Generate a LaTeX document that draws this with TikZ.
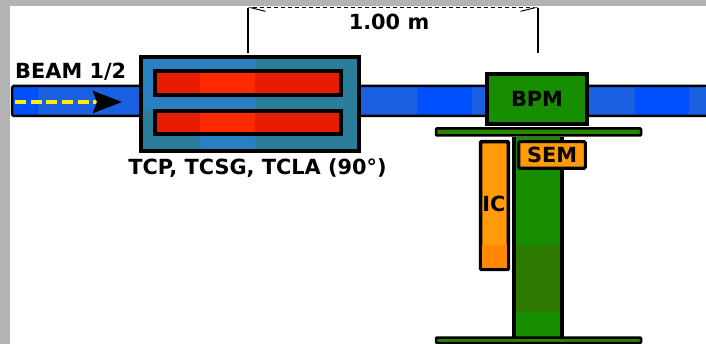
\documentclass[tikz,border=0pt]{standalone}
\usepackage{fontspec}
\setmainfont{DejaVu Sans}
\usetikzlibrary{calc, positioning, arrows.meta}
\definecolor{pageGray}{HTML}{B3B3B3}
\definecolor{beamBlue}{HTML}{0050FF}
\definecolor{beamSoft}{HTML}{1A60E0}
\definecolor{tankBlue}{HTML}{2A7FC0}
\definecolor{tankTeal}{HTML}{2B7D9C}
\definecolor{jawRed}{HTML}{E81C00}
\definecolor{jawHot}{HTML}{FF2A00}
\definecolor{standGreen}{HTML}{168E00}
\definecolor{standDark}{HTML}{2E7A00}
\definecolor{plateGreen}{HTML}{2A8400}
\definecolor{detOrange}{HTML}{FF9A08}
\definecolor{detDeep}{HTML}{FF8800}
\tikzset{
  lbl/.style={font=\bfseries\fontsize{17.8}{20}\selectfont, inner sep=0pt},
  outl/.style={draw=black, line width=0.095cm},
  thinl/.style={draw=black, line width=0.05cm},
  platel/.style={draw=black, line width=0.075cm, fill=plateGreen, rounded corners=0.03cm},
  det/.style={outl, rounded corners=0.04cm, fill=detOrange, inner sep=0pt, lbl},
}
\def\BeamTop{86}
\def\BeamBot{116}
\def\DimY{8}
\def\DimFoot{53}

\begin{document}
\begin{tikzpicture}[x=0.03cm, y=-0.03cm]
  \useasboundingbox (0,0) rectangle (706,344);
  \clip (0,0) rectangle (706,344);
  % ----- page -----
  \fill[pageGray] (0,0) rectangle (706,344);
  \fill[white] (10,6) rectangle (706,344);

  % ----- beam pipe -----
  \fill[beamSoft, rounded corners=0.05cm] (12,\BeamTop) rectangle (706,\BeamBot);
  \fill[beamBlue, rounded corners=0.05cm] (12,\BeamTop) rectangle (38,\BeamBot);
  \fill[beamBlue] (417,\BeamTop) rectangle (472,\BeamBot);
  \fill[beamBlue] (635,\BeamTop) rectangle (689,\BeamBot);
  \draw[line width=0.075cm, rounded corners=0.05cm]
    (706,\BeamTop) -- (12,\BeamTop) -- (12,\BeamBot) -- (706,\BeamBot);

  \coordinate (BeamIn) at (15,102);
  \coordinate (BeamTip) at (122,102);
  \draw[yellow, line width=0.12cm, dash pattern=on 0.33cm off 0.14cm,
    -{Stealth[length=0.87cm, width=0.66cm, inset=0.12cm, black]}] (BeamIn) -- (BeamTip);
  \node[lbl, anchor=west] (beamlbl) at (15,72) {BEAM 1/2};

  % ----- collimator tank -----
  \fill[tankBlue] (141,57) rectangle (255,151);
  \fill[tankTeal] (255,57) rectangle (359,151);
  \fill[tankTeal] (141,110) rectangle (200,151);
  \draw[outl] (141,57) rectangle (359,151);

  % jaws
  \fill[jawRed] (155,71) rectangle (341,95);
  \fill[jawHot] (200,71) rectangle (255,95);
  \draw[outl] (155,71) rectangle (341,95);
  \fill[jawRed] (155,111) rectangle (341,134);
  \fill[jawHot] (200,111) rectangle (255,134);
  \draw[outl] (155,111) rectangle (341,134);
  \node[lbl] (tcplbl) at (257.5,168) {TCP, TCSG, TCLA (90°)};

  % ----- 1 m distance -----
  \coordinate (DimLeft) at (248,\DimY);
  \coordinate (DimRight) at (538,\DimY);
  \coordinate (FootLeft) at (248,\DimFoot);
  \coordinate (FootRight) at (538,\DimFoot);
  \draw[thinl] (FootLeft) -- (DimLeft);
  \draw[thinl] (FootRight) -- (DimRight);
  \draw[line width=0.03cm, dash pattern=on 0.12cm off 0.09cm,
    {Straight Barb[harpoon, length=0.4cm, width=0.2cm]}-{Straight Barb[harpoon, swap, length=0.4cm, width=0.2cm]}]
    (DimLeft) -- (DimRight);
  \node[lbl] (dimlbl) at (389,22) {1.00 m};

  % ----- stand -----
  \fill[standGreen] (514,137) rectangle (562,338);
  \fill[standDark] (514,245) rectangle (562,312);
  \draw[outl] (514,137) -- (514,338);
  \draw[outl] (562,137) -- (562,338);
  \draw[platel] (436,128.5) rectangle (641,135.5);
  \draw[platel] (436,337.5) rectangle (641,343);

  % ----- BPM and detectors -----
  \node[outl, fill=standGreen, lbl, minimum width=3cm, minimum height=1.5cm] (bpm) at (537,99) {BPM};
  \node[det, minimum width=2.0cm, minimum height=0.8cm] (sem) at (552,155) {SEM};
  \node[det, line width=0.07cm, minimum width=0.8cm, minimum height=3.8cm] (ic) at (494.5,205.5) {};
  \fill[detDeep] (482,245) rectangle (507,268);
  \draw[line width=0.07cm, rounded corners=0.04cm] (ic.south west) rectangle (ic.north east);
  \node[lbl] (iclbl) at (494,204) {IC};
\end{tikzpicture}
\end{document}
